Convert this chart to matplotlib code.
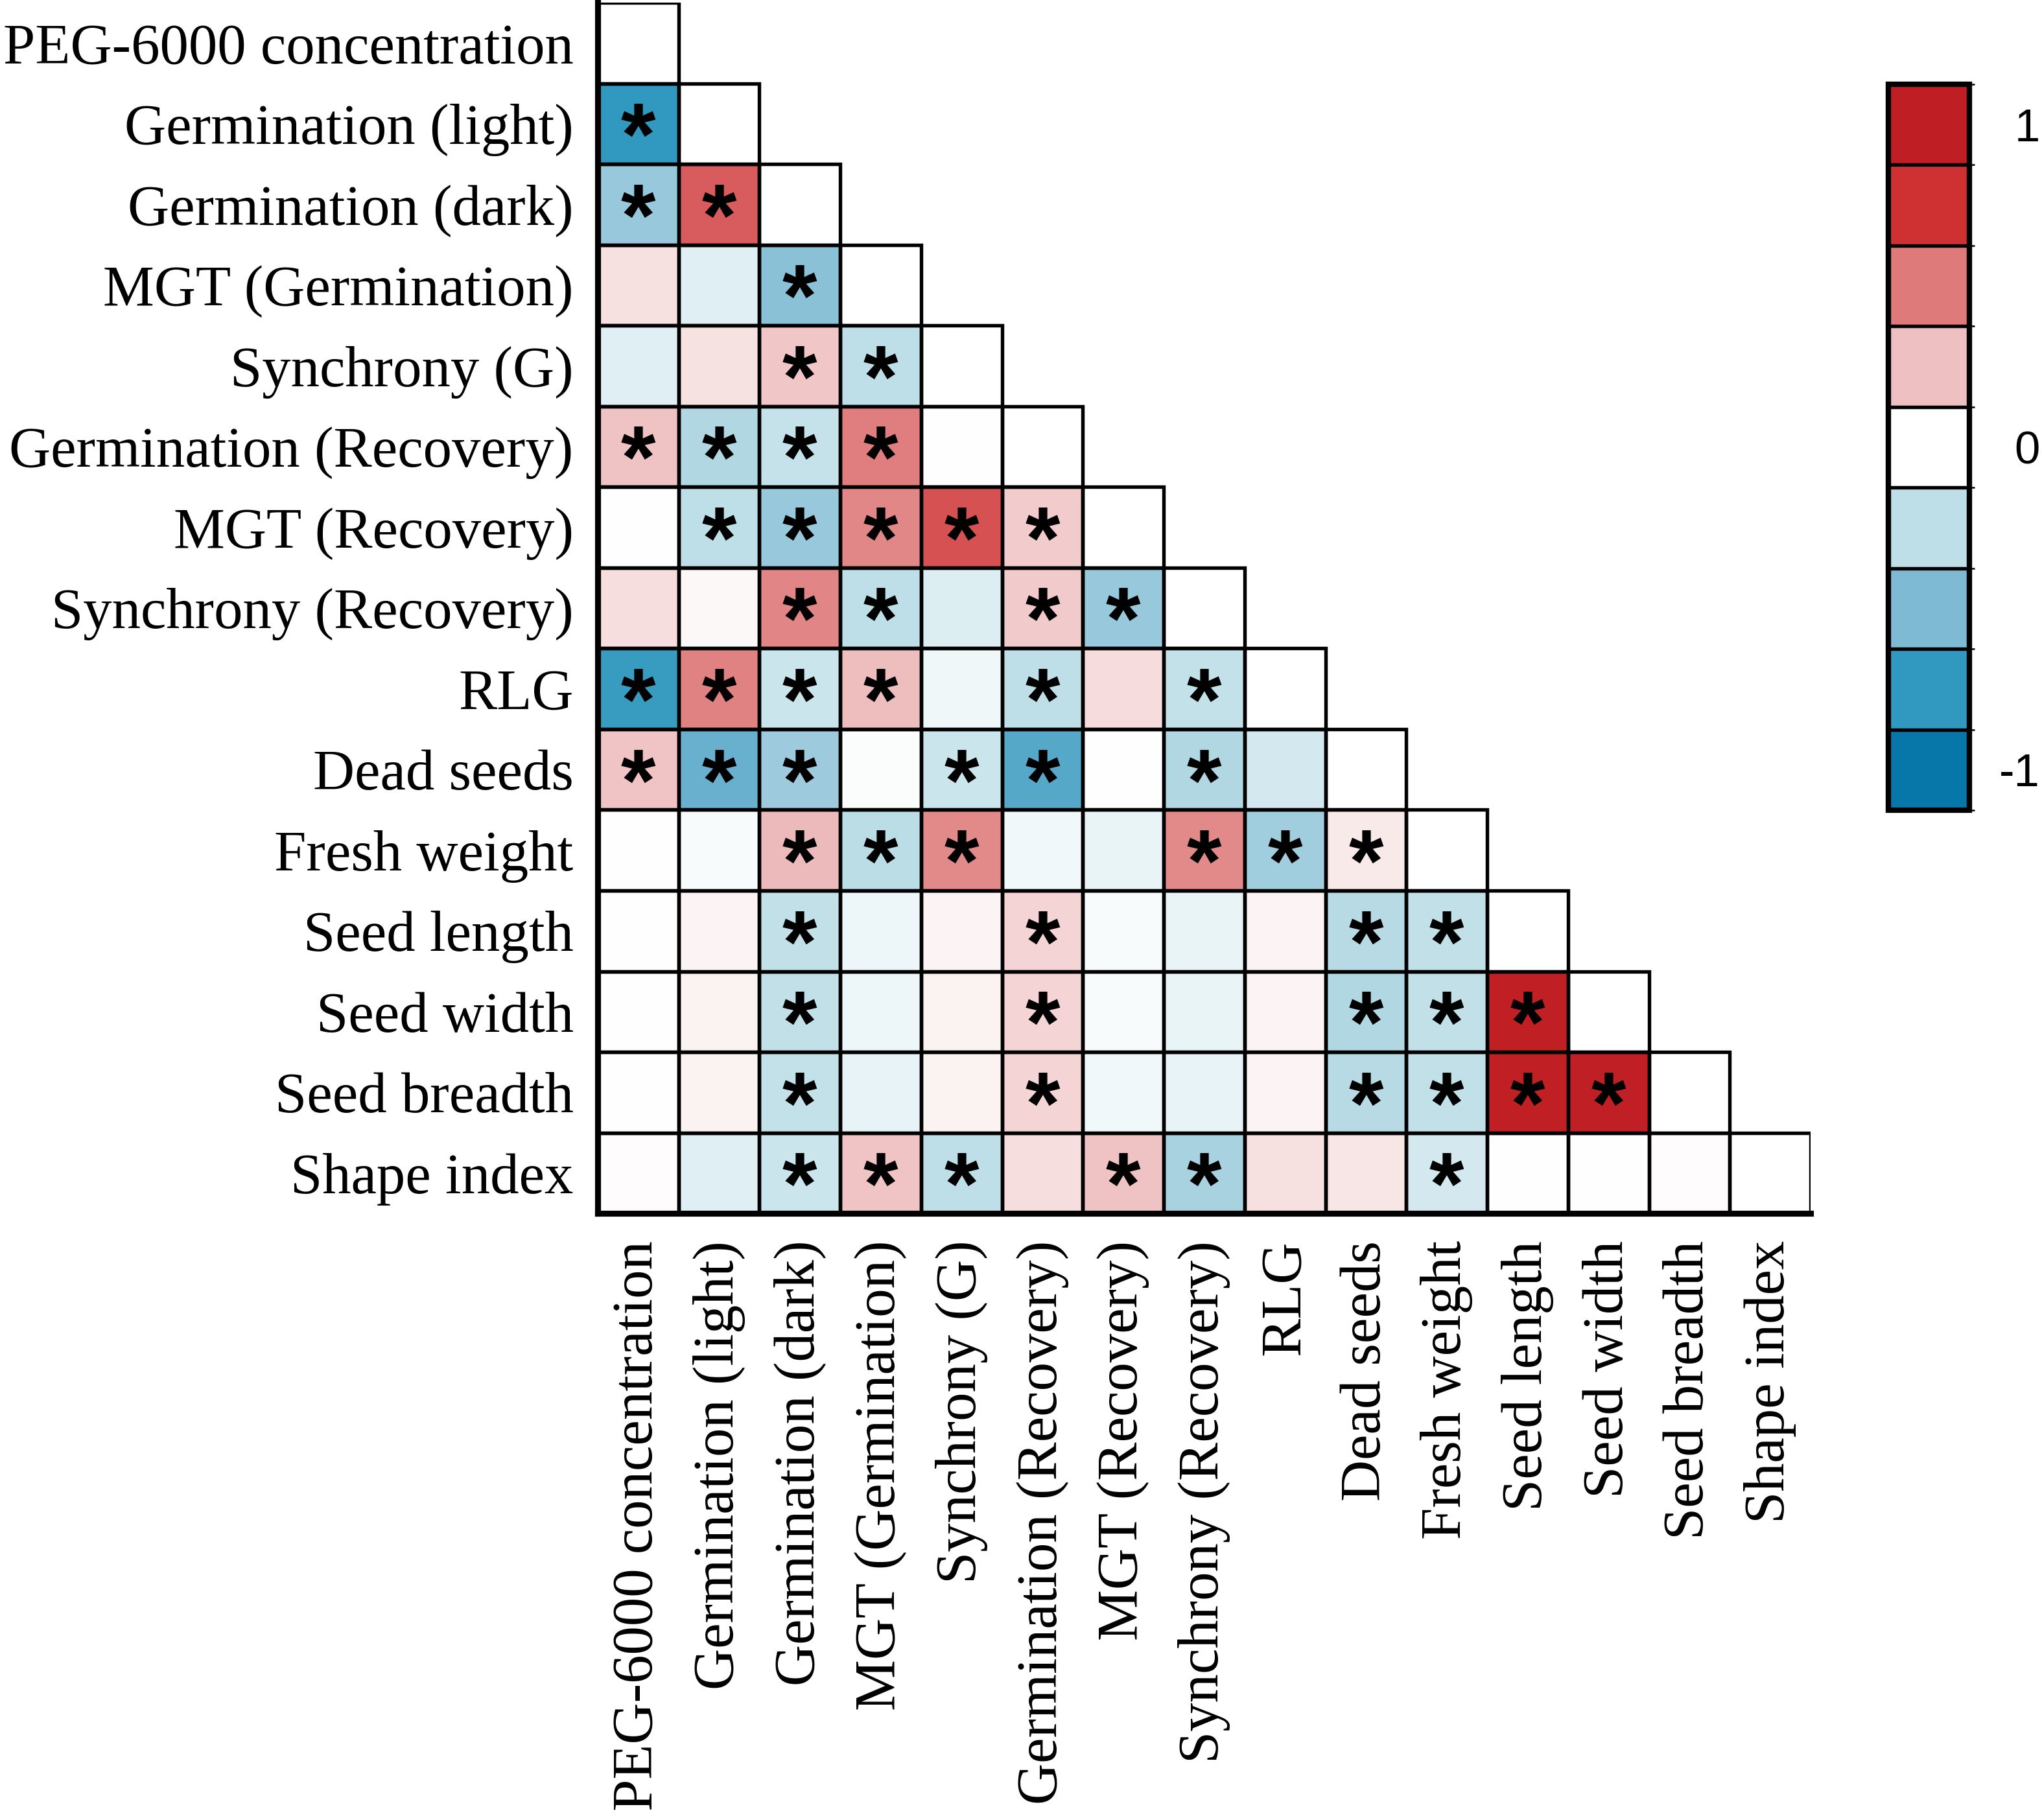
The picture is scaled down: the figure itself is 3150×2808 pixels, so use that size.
import matplotlib
matplotlib.use('Agg')
import matplotlib.pyplot as plt
import numpy as np
from matplotlib.colors import LinearSegmentedColormap, ListedColormap, BoundaryNorm
from matplotlib.patches import Rectangle
import matplotlib.colorbar as mcolorbar

# Variables (rows/columns of the matrix)
variables = ["PEG-6000 concentration", "Germination (light)", "Germination (dark)",
             "MGT (Germination)", "Synchrony (G)", "Germination (Recovery)",
             "MGT (Recovery)", "Synchrony (Recovery)", "RLG", "Dead seeds",
             "Fresh weight", "Seed length", "Seed width", "Seed breadth", "Shape index"]

# Lower-triangle correlation values, row i holds columns 0..i-1
corr_rows = [
    [],
    [-0.75],
    [-0.40, 0.60],
    [0.12, -0.12, -0.45],
    [-0.12, 0.11, 0.22, -0.25],
    [0.24, -0.30, -0.22, 0.48, 0.00],
    [0.00, -0.25, -0.40, 0.45, 0.64, 0.20],
    [0.13, 0.03, 0.46, -0.25, -0.13, 0.21, -0.40],
    [-0.72, 0.47, -0.20, 0.25, -0.06, -0.25, 0.14, -0.23],
    [0.23, -0.57, -0.38, -0.01, -0.20, -0.63, 0.00, -0.30, -0.17],
    [0.00, -0.03, 0.27, -0.26, 0.44, -0.05, -0.08, 0.44, -0.36, 0.08],
    [0.00, 0.04, -0.24, -0.07, 0.04, 0.17, -0.03, -0.08, 0.04, -0.28, -0.24],
    [0.00, 0.05, -0.24, -0.07, 0.05, 0.17, -0.03, -0.08, 0.04, -0.30, -0.24, 0.98],
    [0.00, 0.05, -0.23, -0.09, 0.05, 0.17, -0.05, -0.09, 0.04, -0.28, -0.24, 0.98, 0.97],
    [0.01, -0.12, -0.20, 0.23, -0.25, 0.13, 0.24, -0.33, 0.12, 0.10, -0.17, 0.00, 0.00, 0.01],
]

# Significance flags (1 = marked with *)
sig_rows = [
    [],
    [1],
    [1, 1],
    [0, 0, 1],
    [0, 0, 1, 1],
    [1, 1, 1, 1, 0],
    [0, 1, 1, 1, 1, 1],
    [0, 0, 1, 1, 0, 1, 1],
    [1, 1, 1, 1, 0, 1, 0, 1],
    [1, 1, 1, 0, 1, 1, 0, 1, 0],
    [0, 0, 1, 1, 1, 0, 0, 1, 1, 1],
    [0, 0, 1, 0, 0, 1, 0, 0, 0, 1, 1],
    [0, 0, 1, 0, 0, 1, 0, 0, 0, 1, 1, 1],
    [0, 0, 1, 0, 0, 1, 0, 0, 0, 1, 1, 1, 1],
    [0, 0, 1, 1, 1, 0, 1, 1, 0, 0, 1, 0, 0, 0],
]

cbar_ticks = [-1, 0, 1]
cbar_labels = ['-1', '0', '1']

# colours of the scale, from -1 to 1
scale_colors = ['#0677a8', '#3199bf', '#7fbad4', '#bfdfe8', '#ffffff',
                '#efc0c1', '#df7a7b', '#cf3132', '#bf1e24']
cmap = LinearSegmentedColormap.from_list('cor', scale_colors)
cmap.set_bad((1, 1, 1, 0))

n = len(variables)
mat = np.full((n, n), np.nan)
for i, row in enumerate(corr_rows):
    for j, v in enumerate(row):
        mat[i, j] = v
masked = np.ma.masked_invalid(mat)

serif = 'Liberation Serif'
sans = 'Liberation Sans'
label_size = 21.3

fig = plt.figure(figsize=(10.5, 9.36), dpi=300)
ax = fig.add_axes([0.2927, 0.3333, 0.594, 0.6652])
ax.imshow(masked, cmap=cmap, vmin=-1, vmax=1, aspect='auto', interpolation='nearest')

# cell borders (lower triangle incl. diagonal) and significance stars
for i in range(n):
    for j in range(i + 1):
        ax.add_patch(Rectangle((j - 0.5, i - 0.5), 1, 1, facecolor='none',
                               edgecolor='black', linewidth=1.3, zorder=3))
        if j < i and sig_rows[i][j]:
            ax.text(j, i + 0.23, '*', ha='center', va='center', fontsize=33,
                    family=sans, fontweight='bold', color='black', zorder=4)

ax.set_xlim(-0.5, n - 0.5)
ax.set_ylim(n - 0.5, -0.5)
for side in ['top', 'right']:
    ax.spines[side].set_visible(False)
for side in ['left', 'bottom']:
    ax.spines[side].set_linewidth(2.2)

ax.set_xticks(range(n))
ax.set_xticklabels(variables, rotation=90, fontsize=label_size, family=serif)
ax.set_yticks(range(n))
ax.set_yticklabels(variables, fontsize=label_size, family=serif)
ax.tick_params(axis='x', length=0, pad=10)
ax.tick_params(axis='y', length=0, pad=9)

# discrete colour bar
cax = fig.add_axes([0.9248, 0.5548, 0.0397, 0.3989])
bounds = np.linspace(-1.125, 1.125, 10)
cb = mcolorbar.ColorbarBase(cax, cmap=ListedColormap(scale_colors),
                            norm=BoundaryNorm(bounds, 9), boundaries=bounds,
                            ticks=cbar_ticks, drawedges=True)
cb.outline.set_linewidth(2.0)
cb.dividers.set_linewidth(1.3)
cb.dividers.set_color('black')
cax.set_yticklabels(cbar_labels)
cax.tick_params(length=0, pad=26, labelsize=17)
for lab in cax.get_yticklabels():
    lab.set_ha('right')
    lab.set_family(sans)

plt.savefig('out.png', dpi=300)
